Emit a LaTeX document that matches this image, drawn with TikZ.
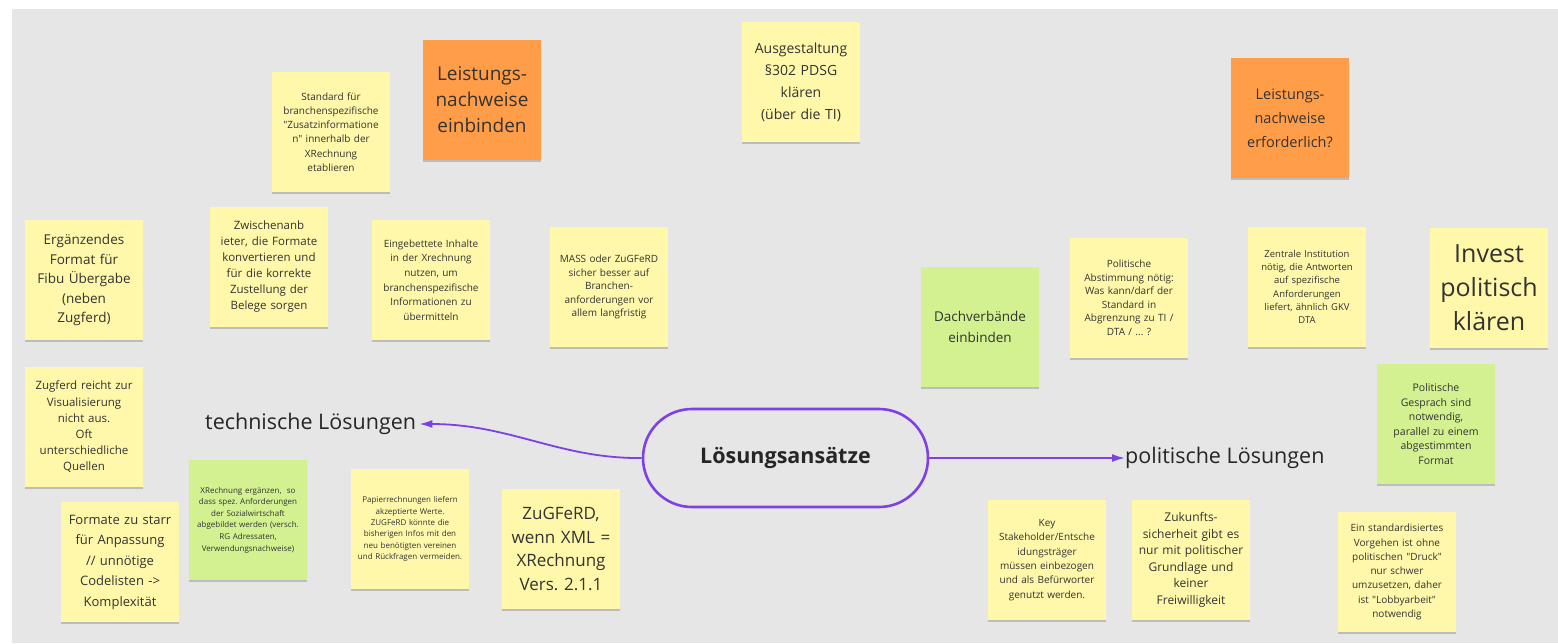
\documentclass[tikz,border=0pt]{standalone}
\usepackage{fontspec}
\setmainfont{Open Sans}
\usetikzlibrary{shadows,arrows.meta}
\definecolor{bg}{HTML}{E6E6E6}
\definecolor{ynote}{HTML}{FFF8AA}
\definecolor{onote}{HTML}{FF9D48}
\definecolor{gnote}{HTML}{D3F190}
\definecolor{purp}{HTML}{7F40E4}
\definecolor{txt}{HTML}{333333}
\newcommand{\nf}[2]{\fontsize{#1}{#2}\selectfont}
\newcommand{\q}{\textquotedbl}
\frenchspacing
\tikzset{
  note/.style={rectangle, inner sep=0pt, minimum width=118pt, minimum height=120pt,
    text width=116pt, align=center, text=txt,
    drop shadow={shadow xshift=0pt, shadow yshift=-2pt, opacity=0.18, fill=black}},
  ynote/.style={note, fill=ynote},
  onote/.style={note, fill=onote},
  gnote/.style={note, fill=gnote},
  hub/.style={draw=purp, line width=2.6pt, rounded corners=49pt, minimum width=285pt,
    minimum height=98pt, inner sep=0pt, font=\bfseries\nf{21.5}{26}, text=black!85},
  branch/.style={inner sep=0pt, font=\nf{21.5}{26}, text=black!85},
  conn/.style={draw=purp, line width=1.8pt, -{Latex[length=13pt,width=8pt]}}
}
\begin{document}
\begin{tikzpicture}[x=1pt,y=-1pt]
\useasboundingbox (0,0) rectangle (1558,643);
\fill[white] (0,0) rectangle (1558,643);
\fill[bg] (12,9) rectangle (1558,643);

% hub and branches
\node[hub] (hub) at (785.5,458) {Lösungsansätze};
\node[branch, anchor=west] (tech) at (205,424) {technische Lösungen};
\node[branch, anchor=west] (pol) at (1125,458) {politische Lösungen};
\draw[conn] (hub.west) .. controls (560,459) and (510,424) .. ([xshift=3pt]tech.east);
\draw[conn] (hub.east) -- (pol.west);

% notes
\node[ynote, font=\nf{10}{14.3}] (n1) at (331,132) {Standard für\\branchenspezifische\\\q Zusatzinformatione\\n\q\ innerhalb der\\XRechnung\\etablieren};
\node[onote, font=\nf{19}{26}] (n2) at (482,100) {Leistungs-\\nachweise\\einbinden};
\node[ynote, font=\nf{14}{22}] (n3) at (801,82) {Ausgestaltung\\§302 PDSG\\klären\\(über die TI)};
\node[onote, font=\nf{14.5}{24}] (n4) at (1290,118) {Leistungs-\\nachweise\\erforderlich?};
\node[ynote, font=\nf{13.5}{19.5}] (n5) at (84,280) {Ergänzendes\\Format für\\Fibu Übergabe\\(neben\\Zugferd)};
\node[ynote, font=\nf{11.5}{16}] (n6) at (269,267) {Zwischenanb\\ieter, die Formate\\konvertieren und\\für die korrekte\\Zustellung der\\Belege sorgen};
\node[ynote, font=\nf{10}{14.7}] (n7) at (431,280) {Eingebettete Inhalte\\in der Xrechnung\\nutzen, um\\branchenspezifische\\Informationen zu\\übermitteln};
\node[ynote, font=\nf{10}{13.5}] (n8) at (609,287) {MASS oder ZuGFeRD\\sicher besser auf\\Branchen-\\anforderungen vor\\allem langfristig};
\node[gnote, font=\nf{13.5}{21}] (n9) at (980,327) {Dachverbände\\einbinden};
\node[ynote, font=\nf{10}{13.5}] (n10) at (1129,298) {Politische\\Abstimmung nötig:\\Was kann/darf der\\Standard in\\Abgrenzung zu TI /\\DTA / ... ?};
\node[ynote, font=\nf{9.5}{13.3}] (n11) at (1307,287) {Zentrale Institution\\nötig, die Antworten\\auf spezifische\\Anforderungen\\liefert, ähnlich GKV\\DTA};
\node[ynote, font=\nf{25}{34}] (n12) at (1489,288) {Invest\\politisch\\klären};
\node[ynote, font=\nf{11.5}{16.2}] (n13) at (84,427) {Zugferd reicht zur\\Visualisierung\\nicht aus.\\Oft\\unterschiedliche\\Quellen};
\node[gnote, font=\nf{10.5}{14.5}] (n14) at (1436,424) {Politische\\Gesprach sind\\notwendig,\\parallel zu einem\\abgestimmten\\Format};
\node[gnote, font=\nf{8}{11.6}] (n15) at (248,520) {XRechnung ergänzen,~ so\\dass spez. Anforderungen\\der Sozialwirtschaft\\abgebildet werden (versch.\\RG Adressaten,\\Verwendungsnachweise)};
\node[ynote, font=\nf{8}{11.3}] (n16) at (410,529) {Papierrechnungen liefern\\akzeptierte Werte.\\ZUGFeRD könnte die\\bisherigen Infos mit den\\neu benötigten vereinen\\und Rückfragen vermeiden.};
\node[ynote, font=\nf{17}{23.5}] (n17) at (561,549) {ZuGFeRD,\\wenn XML =\\XRechnung\\Vers. 2.1.1};
\node[ynote, font=\nf{13}{20.5}] (n18) at (120,562) {Formate zu starr\\für Anpassung\\// unnötige\\Codelisten ->\\Komplexität};
\node[ynote, font=\nf{10}{14.3}] (n19) at (1047,560) {Key\\Stakeholder/Entsche\\idungsträger\\müssen einbezogen\\und als Befürworter\\genutzt werden.};
\node[ynote, font=\nf{12}{16.5}] (n20) at (1191,560) {Zukunfts-\\sicherheit gibt es\\nur mit politischer\\Grundlage und\\keiner\\Freiwilligkeit};
\node[ynote, font=\nf{10}{14.3}] (n21) at (1397,572) {Ein standardisiertes\\Vorgehen ist ohne\\politischen \q Druck\q\\nur schwer\\umzusetzen, daher\\ist \q Lobbyarbeit\q\\notwendig};
\end{tikzpicture}
\end{document}
